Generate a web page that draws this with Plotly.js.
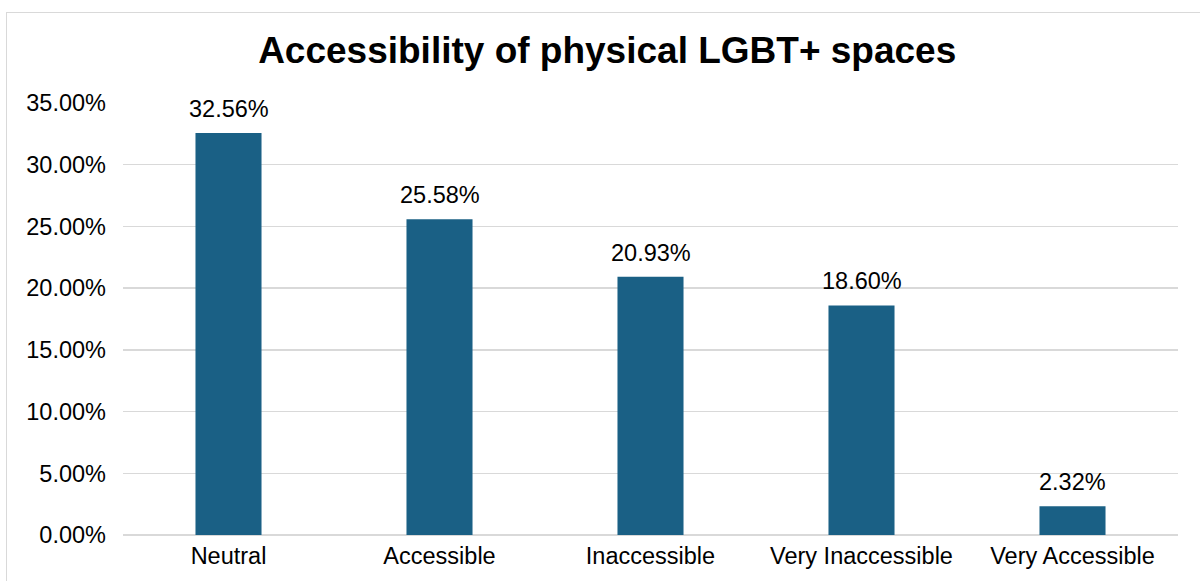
<!DOCTYPE html>
<html>
<head>
<meta charset="utf-8">
<script src="https://cdn.plot.ly/plotly-3.0.1.min.js"></script>
<style>
  html, body { margin: 0; padding: 0; background: #ffffff; }
  #wrap { position: relative; width: 1200px; height: 581px; overflow: hidden; }
  #chart { width: 1200px; height: 581px; }
  #frame { position: absolute; left: 6px; top: 12px; width: 1210px; height: 600px;
           border: 1.5px solid #d9d9d9; pointer-events: none; box-sizing: border-box; }
</style>
</head>
<body>
<div id="wrap">
  <div id="chart"></div>
  <div id="frame"></div>
</div>
<script>
const categories = ["Neutral", "Accessible", "Inaccessible", "Very Inaccessible", "Very Accessible"];
const values = [32.56, 25.58, 20.93, 18.60, 2.32];
const tickValues = [0, 5, 10, 15, 20, 25, 30, 35];
const tickLabels = tickValues.map(v => v.toFixed(2) + "%");

const barColor = "#1a6085";
const font = "Liberation Sans, Arial, Helvetica, sans-serif";

const trace = {
  type: "bar",
  x: categories,
  y: values,
  marker: { color: barColor },
  width: 0.313,
  hoverinfo: "x+y",
  cliponaxis: false
};

const annotations = categories.map((c, i) => ({
  x: c,
  y: values[i],
  xref: "x",
  yref: "y",
  text: values[i].toFixed(2) + "%",
  showarrow: false,
  yanchor: "bottom",
  yshift: 9,
  font: { family: font, size: 23.5, color: "#000000" }
}));

const layout = {
  width: 1200,
  height: 581,
  margin: { l: 123, r: 22, t: 103, b: 46 },
  paper_bgcolor: "#ffffff",
  plot_bgcolor: "#ffffff",
  showlegend: false,
  title: {
    text: "<b>Accessibility of physical LGBT+ spaces</b>",
    font: { family: font, size: 37, color: "#000000" },
    x: 0.506,
    xanchor: "center",
    y: 1 - 50 / 581,
    yref: "container",
    yanchor: "middle"
  },
  xaxis: {
    type: "category",
    showgrid: false,
    showline: false,
    zeroline: false,
    ticks: "",
    tickfont: { family: font, size: 23.5, color: "#000000" },
    ticklabelstandoff: 4
  },
  yaxis: {
    range: [0, 35],
    tickmode: "array",
    tickvals: tickValues,
    ticktext: tickLabels,
    showgrid: true,
    gridcolor: "#d9d9d9",
    gridwidth: 1.5,
    zeroline: true,
    zerolinecolor: "#d9d9d9",
    zerolinewidth: 1.5,
    showline: false,
    ticks: "",
    tickfont: { family: font, size: 23.5, color: "#000000" },
    ticklabelstandoff: 16
  },
  annotations: annotations
};

Plotly.newPlot("chart", [trace], layout, { displayModeBar: false, staticPlot: true });
</script>
</body>
</html>
